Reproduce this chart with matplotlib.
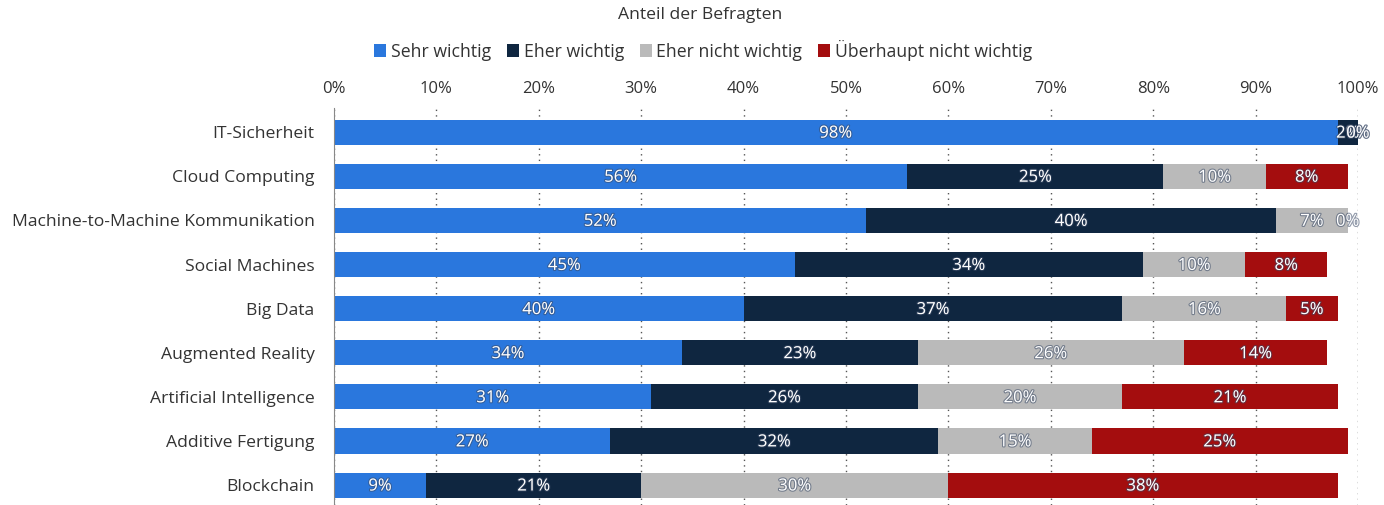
import numpy as np
import matplotlib.pyplot as plt
import matplotlib.patheffects as pe

plt.rcParams['font.family'] = ['Open Sans', 'DejaVu Sans']

# data (Anteil der Befragten in %)
categories = ['IT-Sicherheit', 'Cloud Computing', 'Machine-to-Machine Kommunikation',
              'Social Machines', 'Big Data', 'Augmented Reality',
              'Artificial Intelligence', 'Additive Fertigung', 'Blockchain']
series_names = ['Sehr wichtig', 'Eher wichtig', 'Eher nicht wichtig', 'Überhaupt nicht wichtig']
sehr = [98, 56, 52, 45, 40, 34, 31, 27, 9]
eher = [2, 25, 40, 34, 37, 23, 26, 32, 21]
eher_nicht = [0, 10, 7, 10, 16, 26, 20, 15, 30]
ueberhaupt = [0, 8, 0, 8, 5, 14, 21, 25, 38]

colors = ['#2a77dd', '#0f2640', '#bababa', '#a40d0e']

fig = plt.figure(figsize=(13.84, 5.05), dpi=100)
ax = fig.add_axes([334 / 1384, 0, (1358 - 334) / 1384, 397 / 505])

shadow = [pe.withStroke(linewidth=1.6, foreground='#3a4a66', alpha=0.55)]

y = np.arange(len(categories))
left = np.zeros(len(categories))
handles = []
for i, vals in enumerate([sehr, eher, eher_nicht, ueberhaupt]):
    vals = np.array(vals, dtype=float)
    h = ax.barh(y, vals, left=left, height=0.57, color=colors[i], label=series_names[i], zorder=3)
    handles.append(h)
    for j, v in enumerate(vals):
        ax.text(left[j] + v / 2, y[j] + 0.03, '%d%%' % v, ha='center', va='center',
                color='white', fontsize=12, zorder=4, path_effects=shadow)
    left += vals

ax.set_xlim(0, 100)
ax.set_ylim(8.45, -0.55)
ax.set_yticks(y)
ax.set_yticklabels(categories, fontsize=12.6, color='#333333')
ax.set_xticks(np.arange(0, 101, 10))
ax.set_xticklabels(['%d%%' % t for t in range(0, 101, 10)], fontsize=12, color='#333333')
ax.xaxis.tick_top()
ax.tick_params(axis='x', length=0, pad=8)
ax.tick_params(axis='y', length=0, pad=14)
ax.grid(axis='x', linestyle=(0, (1, 3)), color='#555555', linewidth=1, zorder=0)
for s in ['top', 'right', 'bottom']:
    ax.spines[s].set_visible(False)
ax.spines['left'].set_color('#888888')
ax.spines['left'].set_zorder(5)

fig.text(700 / 1384, 1 - 15 / 505, 'Anteil der Befragten', ha='center', va='center',
         fontsize=12.6, color='#333333')
fig.legend(handles=handles, labels=series_names, loc='center', bbox_to_anchor=(703 / 1384, 1 - 50 / 505),
           ncol=4, frameon=False, fontsize=12.7, handlelength=0.7, handleheight=0.7,
           handletextpad=0.25, columnspacing=0.9, labelcolor='#333333')

fig.savefig('out.png', dpi=100)
